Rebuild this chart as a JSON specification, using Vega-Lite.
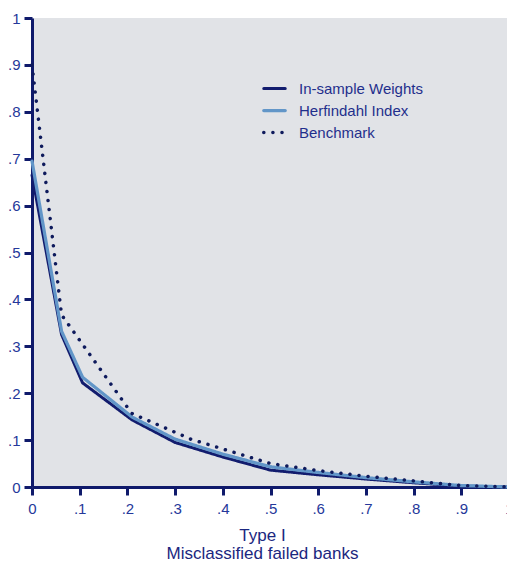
{
  "$schema": "https://vega.github.io/schema/vega-lite/v6.json",
  "width": 477,
  "height": 469,
  "autosize": {"type": "none"},
  "padding": {"left": 32, "top": 18, "right": 0, "bottom": 77},
  "background": "#ffffff",
  "config": {
    "view": {"fill": "#e1e3e7", "stroke": null},
    "font": "Liberation Sans"
  },
  "data": {
    "values": [
      {"series": "In-sample Weights", "x": 0.0, "y": 0.665},
      {"series": "In-sample Weights", "x": 0.062, "y": 0.325},
      {"series": "In-sample Weights", "x": 0.106, "y": 0.222},
      {"series": "In-sample Weights", "x": 0.21, "y": 0.143},
      {"series": "In-sample Weights", "x": 0.3, "y": 0.095},
      {"series": "In-sample Weights", "x": 0.4, "y": 0.064},
      {"series": "In-sample Weights", "x": 0.5, "y": 0.036},
      {"series": "In-sample Weights", "x": 0.6, "y": 0.026},
      {"series": "In-sample Weights", "x": 0.7, "y": 0.017},
      {"series": "In-sample Weights", "x": 0.8, "y": 0.009},
      {"series": "In-sample Weights", "x": 0.9, "y": 0.002},
      {"series": "In-sample Weights", "x": 1.0, "y": 0.0},
      {"series": "Herfindahl Index", "x": 0.0, "y": 0.695},
      {"series": "Herfindahl Index", "x": 0.062, "y": 0.332},
      {"series": "Herfindahl Index", "x": 0.106, "y": 0.234},
      {"series": "Herfindahl Index", "x": 0.21, "y": 0.149},
      {"series": "Herfindahl Index", "x": 0.3, "y": 0.102},
      {"series": "Herfindahl Index", "x": 0.4, "y": 0.07},
      {"series": "Herfindahl Index", "x": 0.5, "y": 0.043},
      {"series": "Herfindahl Index", "x": 0.6, "y": 0.031},
      {"series": "Herfindahl Index", "x": 0.7, "y": 0.02},
      {"series": "Herfindahl Index", "x": 0.8, "y": 0.011},
      {"series": "Herfindahl Index", "x": 0.9, "y": 0.003},
      {"series": "Herfindahl Index", "x": 1.0, "y": 0.0},
      {"series": "Benchmark", "x": 0.0, "y": 0.9},
      {"series": "Benchmark", "x": 0.062, "y": 0.367},
      {"series": "Benchmark", "x": 0.209, "y": 0.157},
      {"series": "Benchmark", "x": 0.333, "y": 0.102},
      {"series": "Benchmark", "x": 0.5, "y": 0.05},
      {"series": "Benchmark", "x": 0.6, "y": 0.035},
      {"series": "Benchmark", "x": 0.7, "y": 0.023},
      {"series": "Benchmark", "x": 0.8, "y": 0.013},
      {"series": "Benchmark", "x": 0.9, "y": 0.003},
      {"series": "Benchmark", "x": 1.0, "y": 0.0}
    ]
  },
  "mark": {"type": "line", "strokeCap": "round", "strokeJoin": "round", "clip": false},
  "encoding": {
    "x": {
      "field": "x",
      "type": "quantitative",
      "scale": {"domain": [0, 1], "nice": false},
      "axis": {
        "values": [0, 0.1, 0.2, 0.3, 0.4, 0.5, 0.6, 0.7, 0.8, 0.9, 1],
        "labelExpr": "datum.value == 0 ? '0' : datum.value == 1 ? '1' : replace(format(datum.value, '.1f'), '0.', '.')",
        "grid": false,
        "domainColor": "#0f1a6b",
        "domainWidth": 3,
        "tickColor": "#0f1a6b",
        "tickWidth": 3,
        "tickSize": 8,
        "labelColor": "#25389a",
        "labelFontSize": 15,
        "labelPadding": 6,
        "labelFlush": false,
        "title": ["Type I", "Misclassified failed banks"],
        "titleColor": "#1b2780",
        "titleFontSize": 17,
        "titleFontWeight": "normal",
        "titleLineHeight": 18,
        "titlePadding": 11,
        "titleX": 230
      }
    },
    "y": {
      "field": "y",
      "type": "quantitative",
      "scale": {"domain": [0, 1], "nice": false},
      "axis": {
        "values": [0, 0.1, 0.2, 0.3, 0.4, 0.5, 0.6, 0.7, 0.8, 0.9, 1],
        "labelExpr": "datum.value == 0 ? '0' : datum.value == 1 ? '1' : replace(format(datum.value, '.1f'), '0.', '.')",
        "grid": false,
        "domainColor": "#0f1a6b",
        "domainWidth": 3,
        "tickColor": "#0f1a6b",
        "tickWidth": 3,
        "tickSize": 8,
        "labelColor": "#25389a",
        "labelFontSize": 15,
        "labelPadding": 4,
        "labelFlush": false,
        "title": null
      }
    },
    "color": {
      "field": "series",
      "type": "nominal",
      "sort": ["In-sample Weights", "Herfindahl Index", "Benchmark"],
      "scale": {
        "domain": ["In-sample Weights", "Herfindahl Index", "Benchmark"],
        "range": ["#121c6e", "#6296c8", "#0e1a5c"]
      },
      "legend": {
        "title": null,
        "orient": "none",
        "legendX": 230,
        "legendY": 58,
        "labelFontSize": 15,
        "labelColor": "#1f2f8c",
        "symbolSize": 462,
        "labelOffset": 12,
        "rowPadding": 1,
        "symbolStrokeWidth": 3.5,
        "encode": {"symbols": {"update": {"strokeCap": {"value": "round"}}}}
      }
    },
    "strokeDash": {
      "field": "series",
      "type": "nominal",
      "sort": ["In-sample Weights", "Herfindahl Index", "Benchmark"],
      "scale": {
        "domain": ["In-sample Weights", "Herfindahl Index", "Benchmark"],
        "range": [[1, 0], [1, 0], [0.1, 9]]
      },
      "legend": null
    },
    "strokeWidth": {
      "field": "series",
      "type": "nominal",
      "sort": ["In-sample Weights", "Herfindahl Index", "Benchmark"],
      "scale": {
        "domain": ["In-sample Weights", "Herfindahl Index", "Benchmark"],
        "range": [3, 3.5, 4]
      },
      "legend": null
    }
  }
}
